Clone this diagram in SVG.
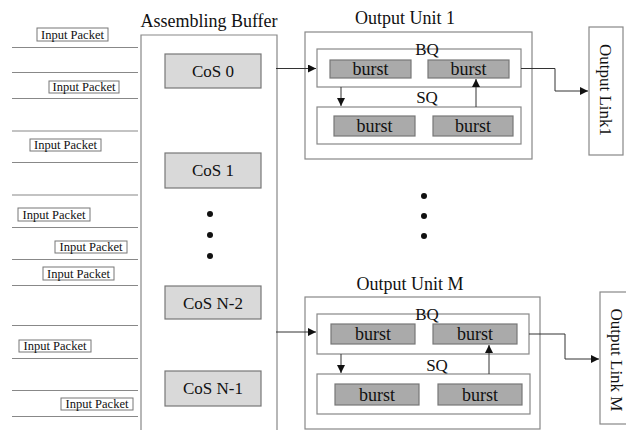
<svg xmlns="http://www.w3.org/2000/svg" width="626" height="430" viewBox="0 0 626 430" font-family="'Liberation Serif', 'Times New Roman', serif">
  <defs>
    <style>
      text { font-family: "Liberation Serif", "Times New Roman", serif; fill: #111; }
      .title { font-size: 18px; text-anchor: middle; }
      .lbl { font-size: 17px; text-anchor: middle; }
      .bst { font-size: 18px; text-anchor: middle; }
      .vert { font-size: 17px; text-anchor: middle; dominant-baseline: central; }
      .pkt-t { font-size: 12.5px; text-anchor: middle; }
      .frame { fill: #fff; stroke: #888; stroke-width: 1.2; }
      .cos { fill: #d9d9d9; stroke: #777; stroke-width: 1.2; }
      .burst { fill: #aaaaaa; stroke: #777; stroke-width: 1.2; }
      .pkt { fill: #fff; stroke: #777; stroke-width: 1; }
      .wire { fill: none; stroke: #333; stroke-width: 1; }
      .inline { stroke: #888; stroke-width: 1.2; }
    </style>
    <marker id="arr" viewBox="0 0 10 10" refX="10" refY="5" markerWidth="8" markerHeight="8" markerUnits="userSpaceOnUse" orient="auto">
      <path d="M0,0 L10,5 L0,10 z" fill="#111"/>
    </marker>
  </defs>

  <!-- input lines -->
  <g id="input-lines">
    <line class="inline" x1="12" y1="47.5" x2="138" y2="47.5"/>
    <line class="inline" x1="12" y1="72.5" x2="138" y2="72.5"/>
    <line class="inline" x1="12" y1="98.5" x2="138" y2="98.5"/>
    <line class="inline" x1="12" y1="131" x2="138" y2="131"/>
    <line class="inline" x1="12" y1="162.5" x2="138" y2="162.5"/>
    <line class="inline" x1="12" y1="195" x2="138" y2="195"/>
    <line class="inline" x1="12" y1="227.5" x2="138" y2="227.5"/>
    <line class="inline" x1="12" y1="259.5" x2="138" y2="259.5"/>
    <line class="inline" x1="12" y1="285.5" x2="138" y2="285.5"/>
    <line class="inline" x1="12" y1="325.5" x2="138" y2="325.5"/>
    <line class="inline" x1="12" y1="358.5" x2="138" y2="358.5"/>
    <line class="inline" x1="12" y1="390.5" x2="138" y2="390.5"/>
    <line class="inline" x1="12" y1="416.5" x2="138" y2="416.5"/>
  </g>

  <!-- input packets -->
  <g id="packet-1"><rect class="pkt" x="37" y="28" width="71" height="13"/><text class="pkt-t" x="72.5" y="38.5">Input Packet</text></g>
  <g id="packet-2"><rect class="pkt" x="49" y="81" width="70" height="12"/><text class="pkt-t" x="84" y="91">Input Packet</text></g>
  <g id="packet-3"><rect class="pkt" x="30" y="139" width="71" height="12"/><text class="pkt-t" x="65.5" y="149">Input Packet</text></g>
  <g id="packet-4"><rect class="pkt" x="18" y="208" width="72" height="13"/><text class="pkt-t" x="54" y="218.5">Input Packet</text></g>
  <g id="packet-5"><rect class="pkt" x="55" y="241" width="72" height="12"/><text class="pkt-t" x="91" y="251">Input Packet</text></g>
  <g id="packet-6"><rect class="pkt" x="43" y="267" width="71" height="13"/><text class="pkt-t" x="78.5" y="277.5">Input Packet</text></g>
  <g id="packet-7"><rect class="pkt" x="19" y="340" width="72" height="12"/><text class="pkt-t" x="55" y="350">Input Packet</text></g>
  <g id="packet-8"><rect class="pkt" x="61" y="398" width="72" height="12"/><text class="pkt-t" x="97" y="408">Input Packet</text></g>

  <!-- assembling buffer -->
  <g id="assembling-buffer">
    <text class="title" x="209" y="27">Assembling Buffer</text>
    <path class="frame" d="M141,440 V35 H277 V440"/>
  </g>
  <g id="cos-0"><rect class="cos" x="165" y="54" width="96" height="34"/><text class="lbl" x="213" y="77">CoS 0</text></g>
  <g id="cos-1"><rect class="cos" x="165" y="153" width="96" height="35"/><text class="lbl" x="213" y="176">CoS 1</text></g>
  <g id="cos-n2"><rect class="cos" x="165" y="286" width="96" height="33"/><text class="lbl" x="213" y="309">CoS N-2</text></g>
  <g id="cos-n1"><rect class="cos" x="165" y="371" width="96" height="35"/><text class="lbl" x="213" y="394">CoS N-1</text></g>
  <g id="buffer-dots" fill="#111">
    <circle cx="210" cy="214" r="3"/>
    <circle cx="210" cy="235" r="3"/>
    <circle cx="210" cy="256" r="3"/>
  </g>

  <!-- output unit 1 -->
  <g id="output-unit-1">
    <text class="title" x="405" y="24">Output Unit 1</text>
    <rect class="frame" x="305" y="32" width="227" height="127"/>
  </g>
  <g id="bq-1">
    <rect class="frame" x="317" y="49" width="204" height="38"/>
    <text class="lbl" x="427" y="55">BQ</text>
    <rect class="burst" x="330" y="60" width="81" height="18"/><text class="bst" x="370.5" y="75">burst</text>
    <rect class="burst" x="428" y="60" width="81" height="18"/><text class="bst" x="468.5" y="75">burst</text>
  </g>
  <g id="sq-1">
    <rect class="frame" x="317" y="107" width="204" height="37"/>
    <text class="lbl" x="427" y="103">SQ</text>
    <rect class="burst" x="334" y="116" width="81" height="20"/><text class="bst" x="374.5" y="132">burst</text>
    <rect class="burst" x="433" y="116" width="80" height="20"/><text class="bst" x="473" y="132">burst</text>
  </g>
  <g id="output-link-1">
    <rect class="frame" x="589" y="27" width="34" height="128"/>
    <text class="vert" transform="translate(605,90) rotate(90)" x="0" y="0">Output Link1</text>
  </g>

  <g id="unit-dots" fill="#111">
    <circle cx="424" cy="196" r="3"/>
    <circle cx="424" cy="216" r="3"/>
    <circle cx="424" cy="236" r="3"/>
  </g>

  <!-- output unit M -->
  <g id="output-unit-m">
    <text class="title" x="410" y="290">Output Unit M</text>
    <rect class="frame" x="305" y="297" width="235" height="132"/>
  </g>
  <g id="bq-m">
    <rect class="frame" x="317" y="314" width="212" height="40"/>
    <text class="lbl" x="427" y="320">BQ</text>
    <rect class="burst" x="331" y="324" width="84" height="20"/><text class="bst" x="373" y="340">burst</text>
    <rect class="burst" x="433" y="324" width="84" height="20"/><text class="bst" x="475" y="340">burst</text>
  </g>
  <g id="sq-m">
    <rect class="frame" x="317" y="374" width="213" height="40"/>
    <text class="lbl" x="437" y="371">SQ</text>
    <rect class="burst" x="335" y="384" width="84" height="21"/><text class="bst" x="377" y="401">burst</text>
    <rect class="burst" x="438" y="384" width="84" height="21"/><text class="bst" x="480" y="401">burst</text>
  </g>
  <g id="output-link-m">
    <rect class="frame" x="600" y="292" width="34" height="132"/>
    <text class="vert" transform="translate(616,360) rotate(90)" x="0" y="0">Output Link M</text>
  </g>

  <!-- connectors -->
  <g id="connectors">
    <line class="wire" x1="276" y1="68.5" x2="316" y2="68.5" marker-end="url(#arr)"/>
    <line class="wire" x1="341" y1="87" x2="341" y2="106" marker-end="url(#arr)"/>
    <line class="wire" x1="476" y1="107" x2="476" y2="79" marker-end="url(#arr)"/>
    <path class="wire" d="M521,68.5 H555 V91 H588" marker-end="url(#arr)"/>

    <line class="wire" x1="276" y1="332" x2="316" y2="332" marker-end="url(#arr)"/>
    <line class="wire" x1="341" y1="354" x2="341" y2="373" marker-end="url(#arr)"/>
    <line class="wire" x1="489" y1="374" x2="489" y2="345" marker-end="url(#arr)"/>
    <path class="wire" d="M529,334 H565 V359 H599" marker-end="url(#arr)"/>
  </g>
</svg>
